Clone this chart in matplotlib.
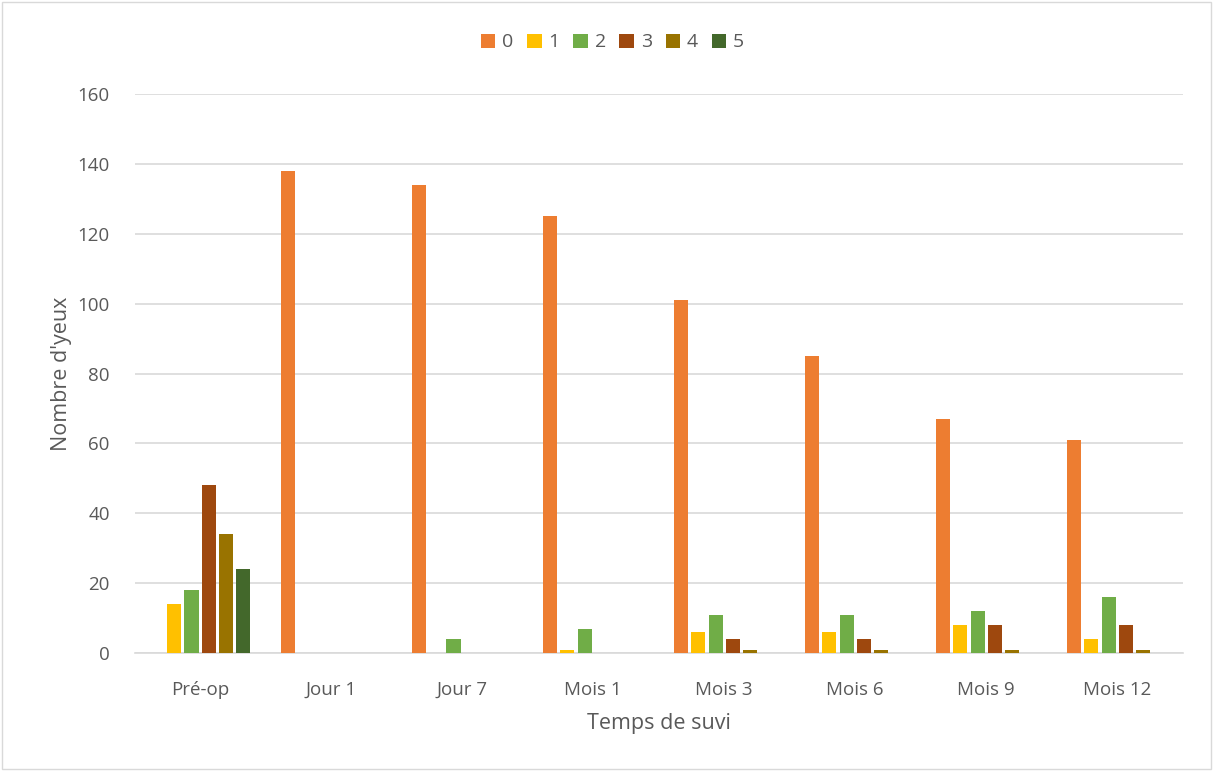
import matplotlib
matplotlib.use("Agg")
import matplotlib.pyplot as plt
import numpy as np

categories = ["Pré-op", "Jour 1", "Jour 7", "Mois 1", "Mois 3", "Mois 6", "Mois 9", "Mois 12"]
series_names = ["0", "1", "2", "3", "4", "5"]
grade_0 = [0, 138, 134, 125, 101, 85, 67, 61]
grade_1 = [14, 0, 0, 1, 6, 6, 8, 4]
grade_2 = [18, 0, 4, 7, 11, 11, 12, 16]
grade_3 = [48, 0, 0, 0, 4, 4, 8, 8]
grade_4 = [34, 0, 0, 0, 1, 1, 1, 1]
grade_5 = [24, 0, 0, 0, 0, 0, 0, 0]
colors = ["#ED7D31", "#FFC000", "#70AD47", "#9E480E", "#997300", "#43682B"]

plt.rcParams["font.family"] = ["Open Sans", "DejaVu Sans"]
text_color = "#595959"

fig = plt.figure(figsize=(12.13, 7.71), dpi=100)
ax = fig.add_axes([0.111, 0.153, 0.864, 0.725])

x = np.arange(len(categories))
pitch = 0.132
width = 0.107
all_series = [grade_0, grade_1, grade_2, grade_3, grade_4, grade_5]
for i, (vals, name, c) in enumerate(zip(all_series, series_names, colors)):
    ax.bar(x + (i - 2.5) * pitch, vals, width, color=c, label=name, zorder=3)

ax.set_xlim(-0.5, len(categories) - 0.5)
ax.set_ylim(0, 160)
ax.set_yticks(range(0, 161, 20))
ax.set_xticks(x)
ax.set_xticklabels(categories)
ax.grid(axis="y", color="#D9D9D9", linewidth=1.2, zorder=0)
for s in ["top", "right", "left"]:
    ax.spines[s].set_visible(False)
ax.spines["bottom"].set_color("#D9D9D9")
ax.spines["bottom"].set_linewidth(1.2)
ax.tick_params(axis="x", length=0, labelsize=13.5, colors=text_color, pad=20)
ax.tick_params(axis="y", length=0, labelsize=13.5, colors=text_color, pad=18)
ax.set_xlabel("Temps de suvi", fontsize=15.5, color=text_color, labelpad=10)
ax.set_ylabel("Nombre d'yeux", fontsize=15.5, color=text_color, labelpad=4)

fig.legend(*ax.get_legend_handles_labels(), loc="center", bbox_to_anchor=(0.505, 0.945),
           ncol=6, frameon=False, fontsize=14, handlelength=0.75, handleheight=0.75,
           handletextpad=0.35, columnspacing=0.7, labelcolor=text_color)

fig.patches.append(plt.Rectangle((0.002, 0.002), 0.996, 0.996, transform=fig.transFigure,
                                 fill=False, edgecolor="#D9D9D9", linewidth=1))

fig.savefig("out.png", dpi=100)
